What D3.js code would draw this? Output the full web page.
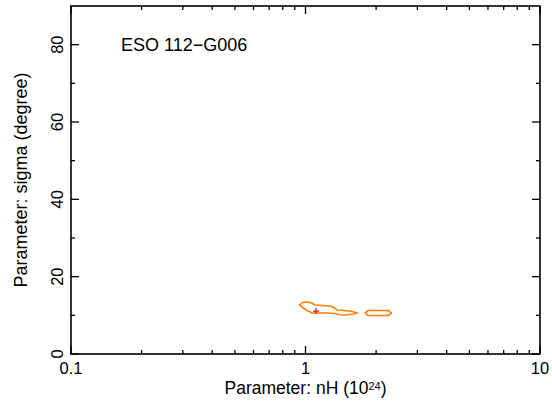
<!DOCTYPE html>
<html>
<head>
<meta charset="utf-8">
<script src="https://cdn.jsdelivr.net/npm/d3@7"></script>
<style>
  body { margin: 0; background: #fff; }
  svg { display: block; }
  text { font-family: "Liberation Sans", Arial, Helvetica, sans-serif; fill: #000; }
</style>
</head>
<body>
<script>
// confidence contours for ESO 112-G006, nH (1e24 cm^-2) vs sigma (deg)
const sourceName = 'ESO 112\u2212G006';
const contourMain = [
  [0.943, 12.67], [0.971, 13.32], [1.025, 13.45], [1.066, 13.14], [1.098, 12.67],
  [1.272, 12.41], [1.323, 12.03], [1.363, 11.38], [1.548, 11.12], [1.666, 10.60],
  [1.610, 10.34], [1.474, 10.09], [1.403, 10.14], [1.329, 10.47], [1.247, 10.60],
  [1.066, 10.60], [1.005, 11.38]
];
const contourSide = [
  [1.794, 10.60], [1.853, 11.25], [2.248, 11.25], [2.326, 10.60], [2.248, 9.96], [1.853, 9.96]
];
const bestFit = [1.109, 11.1];
const xTickLabels = [0.1, 1, 10];
const yTickLabels = [0, 20, 40, 60, 80];

const width = 552;
const height = 404;
const margin = { left: 71, right: 12, top: 6, bottom: 50 };

let svg = d3.select('body')
  .append('svg')
  .attr('width', width)
  .attr('height', height);

let x = d3.scaleLog()
  .domain([0.1, 10])
  .range([margin.left, width - margin.right]);

let y = d3.scaleLinear()
  .domain([0, 90])
  .range([height - margin.bottom, margin.top]);

const x0 = margin.left, x1 = width - margin.right;
const y0 = height - margin.bottom, y1 = margin.top;

// log minor ticks + linear minor ticks
let xMinor = [];
for (let dec of [0.1, 1]) {
  for (let k = 2; k <= 9; k++) xMinor.push(dec * k);
}
let yMinor = [10, 30, 50, 70];

let ticks = svg.append('g')
  .attr('stroke', '#000')
  .attr('stroke-width', 1.3);

// bottom + top
xTickLabels.forEach(v => {
  ticks.append('line').attr('x1', x(v)).attr('x2', x(v)).attr('y1', y0).attr('y2', y0 - 8);
  ticks.append('line').attr('x1', x(v)).attr('x2', x(v)).attr('y1', y1).attr('y2', y1 + 8);
});
xMinor.forEach(v => {
  ticks.append('line').attr('x1', x(v)).attr('x2', x(v)).attr('y1', y0).attr('y2', y0 - 4);
  ticks.append('line').attr('x1', x(v)).attr('x2', x(v)).attr('y1', y1).attr('y2', y1 + 4);
});
// left + right
yTickLabels.forEach(v => {
  ticks.append('line').attr('y1', y(v)).attr('y2', y(v)).attr('x1', x0).attr('x2', x0 + 8);
  ticks.append('line').attr('y1', y(v)).attr('y2', y(v)).attr('x1', x1).attr('x2', x1 - 8);
});
yMinor.forEach(v => {
  ticks.append('line').attr('y1', y(v)).attr('y2', y(v)).attr('x1', x0).attr('x2', x0 + 4);
  ticks.append('line').attr('y1', y(v)).attr('y2', y(v)).attr('x1', x1).attr('x2', x1 - 4);
});

// frame
svg.append('rect')
  .attr('x', x0)
  .attr('y', y1)
  .attr('width', x1 - x0)
  .attr('height', y0 - y1)
  .attr('fill', 'none')
  .attr('stroke', '#000')
  .attr('stroke-width', 1.6);

// tick labels
svg.append('g')
  .selectAll('text')
  .data(xTickLabels)
  .enter()
  .append('text')
  .attr('x', d => x(d))
  .attr('y', y0 + 20)
  .attr('text-anchor', 'middle')
  .style('font-size', '16.5px')
  .text(d => d);

svg.append('g')
  .selectAll('text')
  .data(yTickLabels)
  .enter()
  .append('text')
  .attr('transform', d => `translate(${x0 - 8}, ${y(d)}) rotate(-90)`)
  .attr('text-anchor', 'middle')
  .style('font-size', '16.5px')
  .text(d => d);

// axis titles
let xTitle = svg.append('text')
  .attr('x', (x0 + x1) / 2)
  .attr('y', 394)
  .attr('text-anchor', 'middle')
  .style('font-size', '17.5px');
xTitle.append('tspan').text('Parameter: nH (10');
xTitle.append('tspan').attr('dy', -4.5).style('font-size', '11px').text('24');
xTitle.append('tspan').attr('dy', 4.5).text(')');

svg.append('text')
  .attr('transform', `translate(27, ${(y0 + y1) / 2}) rotate(-90)`)
  .attr('text-anchor', 'middle')
  .style('font-size', '18px')
  .text('Parameter: sigma (degree)');

// source label
svg.append('text')
  .attr('x', 121)
  .attr('y', 51)
  .style('font-size', '18px')
  .text(sourceName);

// contours
let line = d3.line()
  .x(d => x(d[0]))
  .y(d => y(d[1]))
  .curve(d3.curveLinearClosed);

svg.selectAll('path.contour')
  .data([contourMain, contourSide])
  .enter()
  .append('path')
  .attr('class', 'contour')
  .attr('d', line)
  .attr('fill', 'none')
  .attr('stroke', '#ff8000')
  .attr('stroke-width', 1.6)
  .attr('stroke-linejoin', 'round');

// best fit marker
let bx = x(bestFit[0]), by = y(bestFit[1]);
svg.append('path')
  .attr('d', `M${bx - 3},${by}H${bx + 3}M${bx},${by - 3}V${by + 3}`)
  .attr('stroke', '#e8102e')
  .attr('stroke-width', 1.2);
</script>
</body>
</html>
